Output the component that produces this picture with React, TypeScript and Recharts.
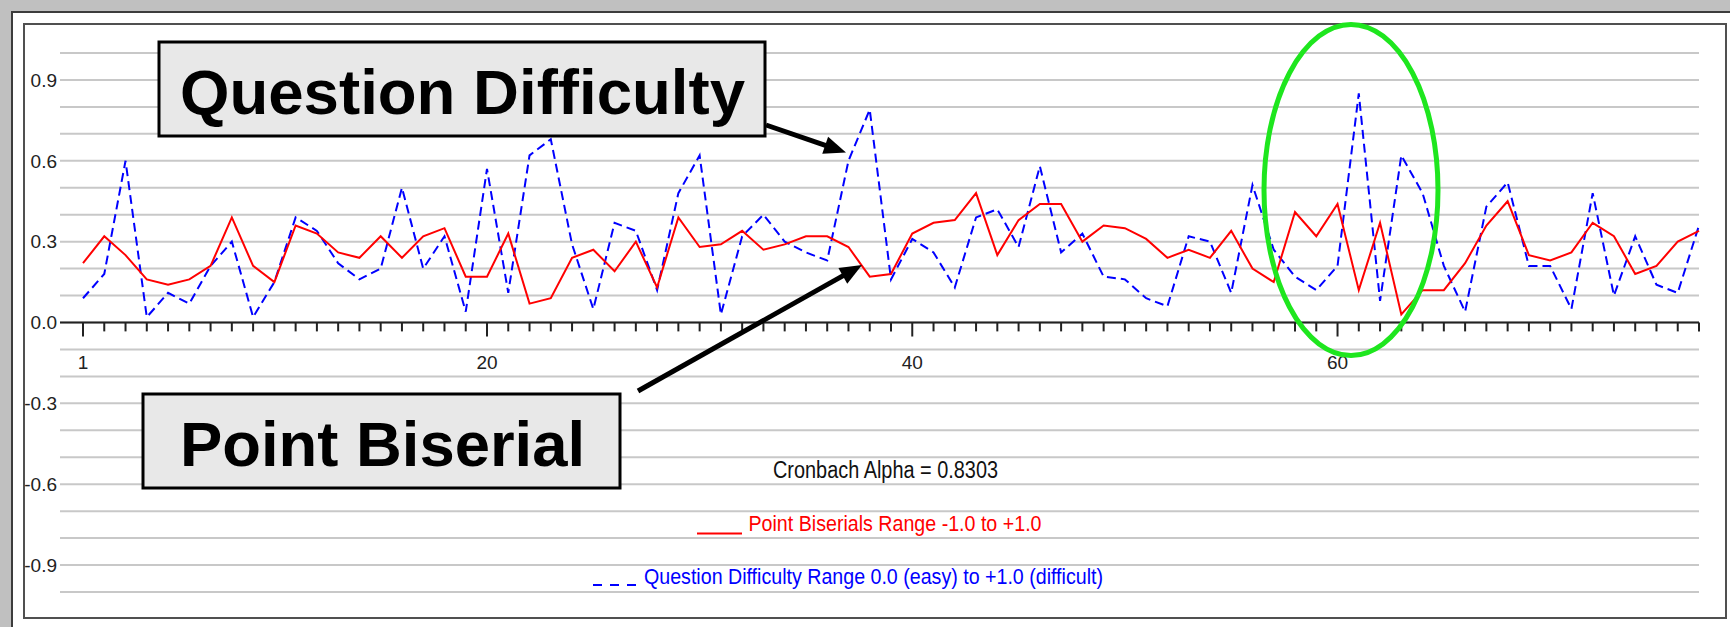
import React from "react";
import { LineChart, Line, XAxis, YAxis, CartesianGrid, ReferenceLine } from "recharts";

// question numbers 1..77
const QUESTIONS = Array.from({ length: 77 }, (_, i) => i + 1);

// point biserial per question (red, solid)
const POINT_BISERIAL = [
  0.22, 0.32, 0.25, 0.16, 0.14, 0.16, 0.21, 0.39, 0.21, 0.15,
  0.36, 0.33, 0.26, 0.24, 0.32, 0.24, 0.32, 0.35, 0.17, 0.17,
  0.33, 0.07, 0.09, 0.24, 0.27, 0.19, 0.3, 0.13, 0.39, 0.28,
  0.29, 0.34, 0.27, 0.29, 0.32, 0.32, 0.28, 0.17, 0.18, 0.33,
  0.37, 0.38, 0.48, 0.25, 0.38, 0.44, 0.44, 0.3, 0.36, 0.35,
  0.31, 0.24, 0.27, 0.24, 0.34, 0.2, 0.15, 0.41, 0.32, 0.44,
  0.12, 0.37, 0.03, 0.12, 0.12, 0.22, 0.36, 0.45, 0.25, 0.23,
  0.26, 0.37, 0.32, 0.18, 0.21, 0.3, 0.34,
];

// question difficulty per question (blue, dashed)
const DIFFICULTY = [
  0.09, 0.18, 0.6, 0.02, 0.11, 0.07, 0.21, 0.3, 0.02, 0.15,
  0.39, 0.34, 0.22, 0.16, 0.2, 0.5, 0.2, 0.32, 0.04, 0.57,
  0.11, 0.62, 0.68, 0.29, 0.05, 0.37, 0.34, 0.12, 0.48, 0.62,
  0.03, 0.32, 0.4, 0.3, 0.26, 0.23, 0.6, 0.79, 0.16, 0.31,
  0.26, 0.13, 0.39, 0.42, 0.28, 0.58, 0.26, 0.33, 0.17, 0.16,
  0.09, 0.06, 0.32, 0.3, 0.11, 0.51, 0.27, 0.17, 0.12, 0.21,
  0.85, 0.08, 0.62, 0.48, 0.21, 0.04, 0.43, 0.52, 0.21, 0.21,
  0.05, 0.48, 0.1, 0.32, 0.14, 0.11, 0.36,
];

const GRID_TICKS = [
  -1, -0.9, -0.8, -0.7, -0.6, -0.5, -0.4, -0.3, -0.2, -0.1, 0,
  0.1, 0.2, 0.3, 0.4, 0.5, 0.6, 0.7, 0.8, 0.9, 1,
];
const Y_LABELS = [0.9, 0.6, 0.3, 0, -0.3, -0.6, -0.9];
const X_LABELS = [1, 20, 40, 60];

const CRONBACH = "Cronbach Alpha = 0.8303";
const PB_LEGEND = "Point Biserials Range -1.0 to +1.0";
const QD_LEGEND = "Question Difficulty Range 0.0 (easy) to +1.0 (difficult)";

const FONT = "'Liberation Sans', Arial, sans-serif";
const NARROW = "'Liberation Sans Narrow', 'Liberation Sans', Arial, sans-serif";

const data = QUESTIONS.map((q, i) => ({ q, pb: POINT_BISERIAL[i], qd: DIFFICULTY[i] }));

const isLabel = (v: number) => Y_LABELS.some((l) => Math.abs(l - v) < 1e-6);

function Arrow({ x1, y1, x2, y2 }: { x1: number; y1: number; x2: number; y2: number }) {
  const len = Math.hypot(x2 - x1, y2 - y1);
  const ux = (x2 - x1) / len;
  const uy = (y2 - y1) / len;
  const head = 22;
  const half = 9;
  const bx = x2 - ux * head;
  const by = y2 - uy * head;
  return (
    <g>
      <line x1={x1} y1={y1} x2={bx + ux * 4} y2={by + uy * 4} stroke="#000" strokeWidth={5} />
      <polygon
        points={`${x2},${y2} ${bx - uy * half},${by + ux * half} ${bx + uy * half},${by - ux * half}`}
        fill="#000"
      />
    </g>
  );
}

export default function App() {
  return (
    <div
      style={{
        position: "absolute",
        left: 0,
        top: 0,
        width: 1730,
        height: 627,
        overflow: "hidden",
        background: "#c0c0c0",
      }}
    >
      <div
        style={{
          position: "absolute",
          left: 11,
          top: 11,
          width: 1730,
          height: 640,
          background: "#fff",
          borderLeft: "2px solid #3c3c3c",
          borderTop: "2px solid #3c3c3c",
        }}
      />
      <div
        style={{
          position: "absolute",
          left: 23,
          top: 23,
          width: 1704,
          height: 596,
          boxSizing: "border-box",
          border: "2px solid #505050",
        }}
      />
      <div style={{ position: "absolute", left: 0, top: 0 }}>
        <LineChart width={1730} height={627} data={data} margin={{ top: 53, right: 31, bottom: 35, left: 0 }}>
          <CartesianGrid vertical={false} stroke="#c8c8c8" strokeWidth={2} />
          <XAxis dataKey="q" hide padding={{ left: 23, right: 0 }} />
          <YAxis
            type="number"
            domain={[-1, 1]}
            ticks={GRID_TICKS}
            interval={0}
            width={60}
            axisLine={false}
            tickLine={false}
            tickSize={0}
            tickMargin={3}
            tick={{ fill: "#222", fontSize: 19, fontFamily: FONT }}
            tickFormatter={(v: number) => (isLabel(v) ? v.toFixed(1) : "")}
          />
          <ReferenceLine y={0} stroke="#222" strokeWidth={2} />
          {QUESTIONS.map((q) => {
            const major = X_LABELS.includes(q);
            return (
              <ReferenceLine
                key={q}
                segment={[
                  { x: q, y: 0 },
                  { x: q, y: major ? -0.052 : -0.033 },
                ]}
                shape={(p: any) => (
                  <g>
                    <line x1={p.x1} y1={p.y1} x2={p.x2} y2={p.y2} stroke="#222" strokeWidth={2} />
                    {major && (
                      <text
                        x={p.x1}
                        y={p.y2 + 32}
                        textAnchor="middle"
                        fill="#222"
                        fontSize={19}
                        fontFamily={FONT}
                      >
                        {q}
                      </text>
                    )}
                  </g>
                )}
              />
            );
          })}
          <Line
            type="linear"
            dataKey="qd"
            stroke="#0000ff"
            strokeWidth={2}
            strokeDasharray="9 5"
            dot={false}
            activeDot={false}
            isAnimationActive={false}
          />
          <Line
            type="linear"
            dataKey="pb"
            stroke="#ff0000"
            strokeWidth={2}
            dot={false}
            activeDot={false}
            isAnimationActive={false}
          />
        </LineChart>
      </div>
      <svg width={1730} height={627} style={{ position: "absolute", left: 0, top: 0 }}>
        {/* legend texts */}
        <text x={773} y={478} fontSize={23} fontFamily={NARROW} fill="#111" textLength={225} lengthAdjust="spacingAndGlyphs">
          {CRONBACH}
        </text>
        <line x1={697} y1={533.5} x2={742} y2={533.5} stroke="#ff0000" strokeWidth={2} />
        <text x={748.5} y={530.5} fontSize={22} fontFamily={NARROW} fill="#ff0000" textLength={293} lengthAdjust="spacingAndGlyphs">
          {PB_LEGEND}
        </text>
        <line x1={593} y1={585} x2={636} y2={585} stroke="#0000ff" strokeWidth={2} strokeDasharray="9 8" />
        <text x={644} y={583.5} fontSize={22} fontFamily={NARROW} fill="#0000ff" textLength={459} lengthAdjust="spacingAndGlyphs">
          {QD_LEGEND}
        </text>

        {/* callouts */}
        <rect x={159} y={42} width={606} height={94} fill="#e8e8e8" stroke="#000" strokeWidth={3} />
        <text x={180} y={113.5} fontSize={63} fontWeight="bold" fontFamily={FONT} fill="#000" textLength={565} lengthAdjust="spacingAndGlyphs">
          Question Difficulty
        </text>
        <Arrow x1={766} y1={125} x2={846} y2={152.5} />

        <rect x={143} y={394} width={477} height={94} fill="#e8e8e8" stroke="#000" strokeWidth={3} />
        <text x={180} y={466} fontSize={63} fontWeight="bold" fontFamily={FONT} fill="#000" textLength={405} lengthAdjust="spacingAndGlyphs">
          Point Biserial
        </text>
        <Arrow x1={638} y1={391} x2={862} y2={265} />

        <ellipse cx={1351} cy={190} rx={87} ry={165.5} fill="none" stroke="#1ee61e" strokeWidth={5} />
      </svg>
    </div>
  );
}
